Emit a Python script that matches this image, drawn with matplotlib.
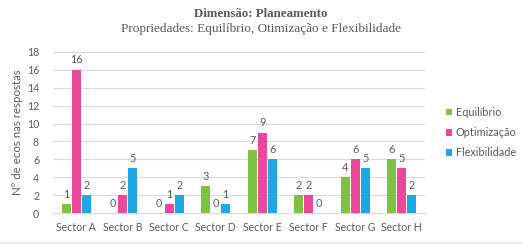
import matplotlib
matplotlib.use("Agg")
import matplotlib.pyplot as plt
import numpy as np
from matplotlib.patches import Rectangle

categories = ["Sector A", "Sector B", "Sector C", "Sector D", "Sector E", "Sector F", "Sector G", "Sector H"]
series_names = ["Equilíbrio", "Optimização", "Flexibilidade"]
equilibrio = [1, 0, 0, 3, 7, 2, 4, 6]
optimizacao = [16, 2, 1, 0, 9, 2, 6, 5]
flexibilidade = [2, 5, 2, 1, 6, 0, 5, 2]
yticks = [0, 2, 4, 6, 8, 10, 12, 14, 16, 18]

colors = ["#7dc242", "#e9489b", "#1ea8e0"]
txt = "#595959"
font = ["Lato", "DejaVu Sans"]

fig = plt.figure(figsize=(5.22, 2.44), dpi=100)
fig.patch.set_facecolor("white")
ax = fig.add_axes([53/522, 1 - 213.3/244, (425-53)/522, (213.3-51.7)/244])

x = np.arange(len(categories))
w = 0.19
gap = 0.215
data = [equilibrio, optimizacao, flexibilidade]
for i, (vals, c, name) in enumerate(zip(data, colors, series_names)):
    pos = x + (i - 1) * gap
    ax.bar(pos, vals, width=w, color=c, label=name, zorder=3)
    for p, v in zip(pos, vals):
        ax.annotate(str(v), (p, v), xytext=(0, 3), textcoords="offset points",
                    ha="center", va="bottom", fontsize=7.8, color=txt, family=font)

ax.set_xlim(-0.5, len(categories) - 0.5)
ax.set_ylim(0, 18)
ax.set_yticks(yticks)
ax.set_xticks(x)
ax.set_xticklabels(categories)
ax.grid(axis="y", color="#d9d9d9", linewidth=0.8, zorder=0)
for s in ["top", "right", "left"]:
    ax.spines[s].set_visible(False)
ax.spines["bottom"].set_color("#d9d9d9")
ax.tick_params(axis="both", length=0, labelsize=7.6, colors=txt, pad=6)
ax.tick_params(axis="y", pad=10)
for lab in ax.get_xticklabels() + ax.get_yticklabels():
    lab.set_family(font)
ax.set_ylabel("Nº de ecos nas respostas", fontsize=8.3, color=txt, family=font, labelpad=3)

leg = ax.legend(loc="center left", bbox_to_anchor=(1.03, 0.5), frameon=False,
                prop={"family": font, "size": 7.8}, handlelength=0.6, handleheight=0.6,
                handletextpad=0.3, labelspacing=0.85)
for t in leg.get_texts():
    t.set_color(txt)

fig.text(0.5, 1 - 14/244, "Dimensão: Planeamento", ha="center", va="center",
         family="Liberation Serif", fontweight="bold", fontsize=9.3, color=txt)
fig.text(0.5, 1 - 29/244, "Propriedades: Equilíbrio, Otimização e Flexibilidade", ha="center", va="center",
         family="Liberation Serif", fontsize=9.5, color=txt)

fig.patches.append(Rectangle((0, 0), 1, 2.5/244, transform=fig.transFigure,
                             facecolor="#ececec", edgecolor="none"))

fig.savefig("out.png", dpi=100)
